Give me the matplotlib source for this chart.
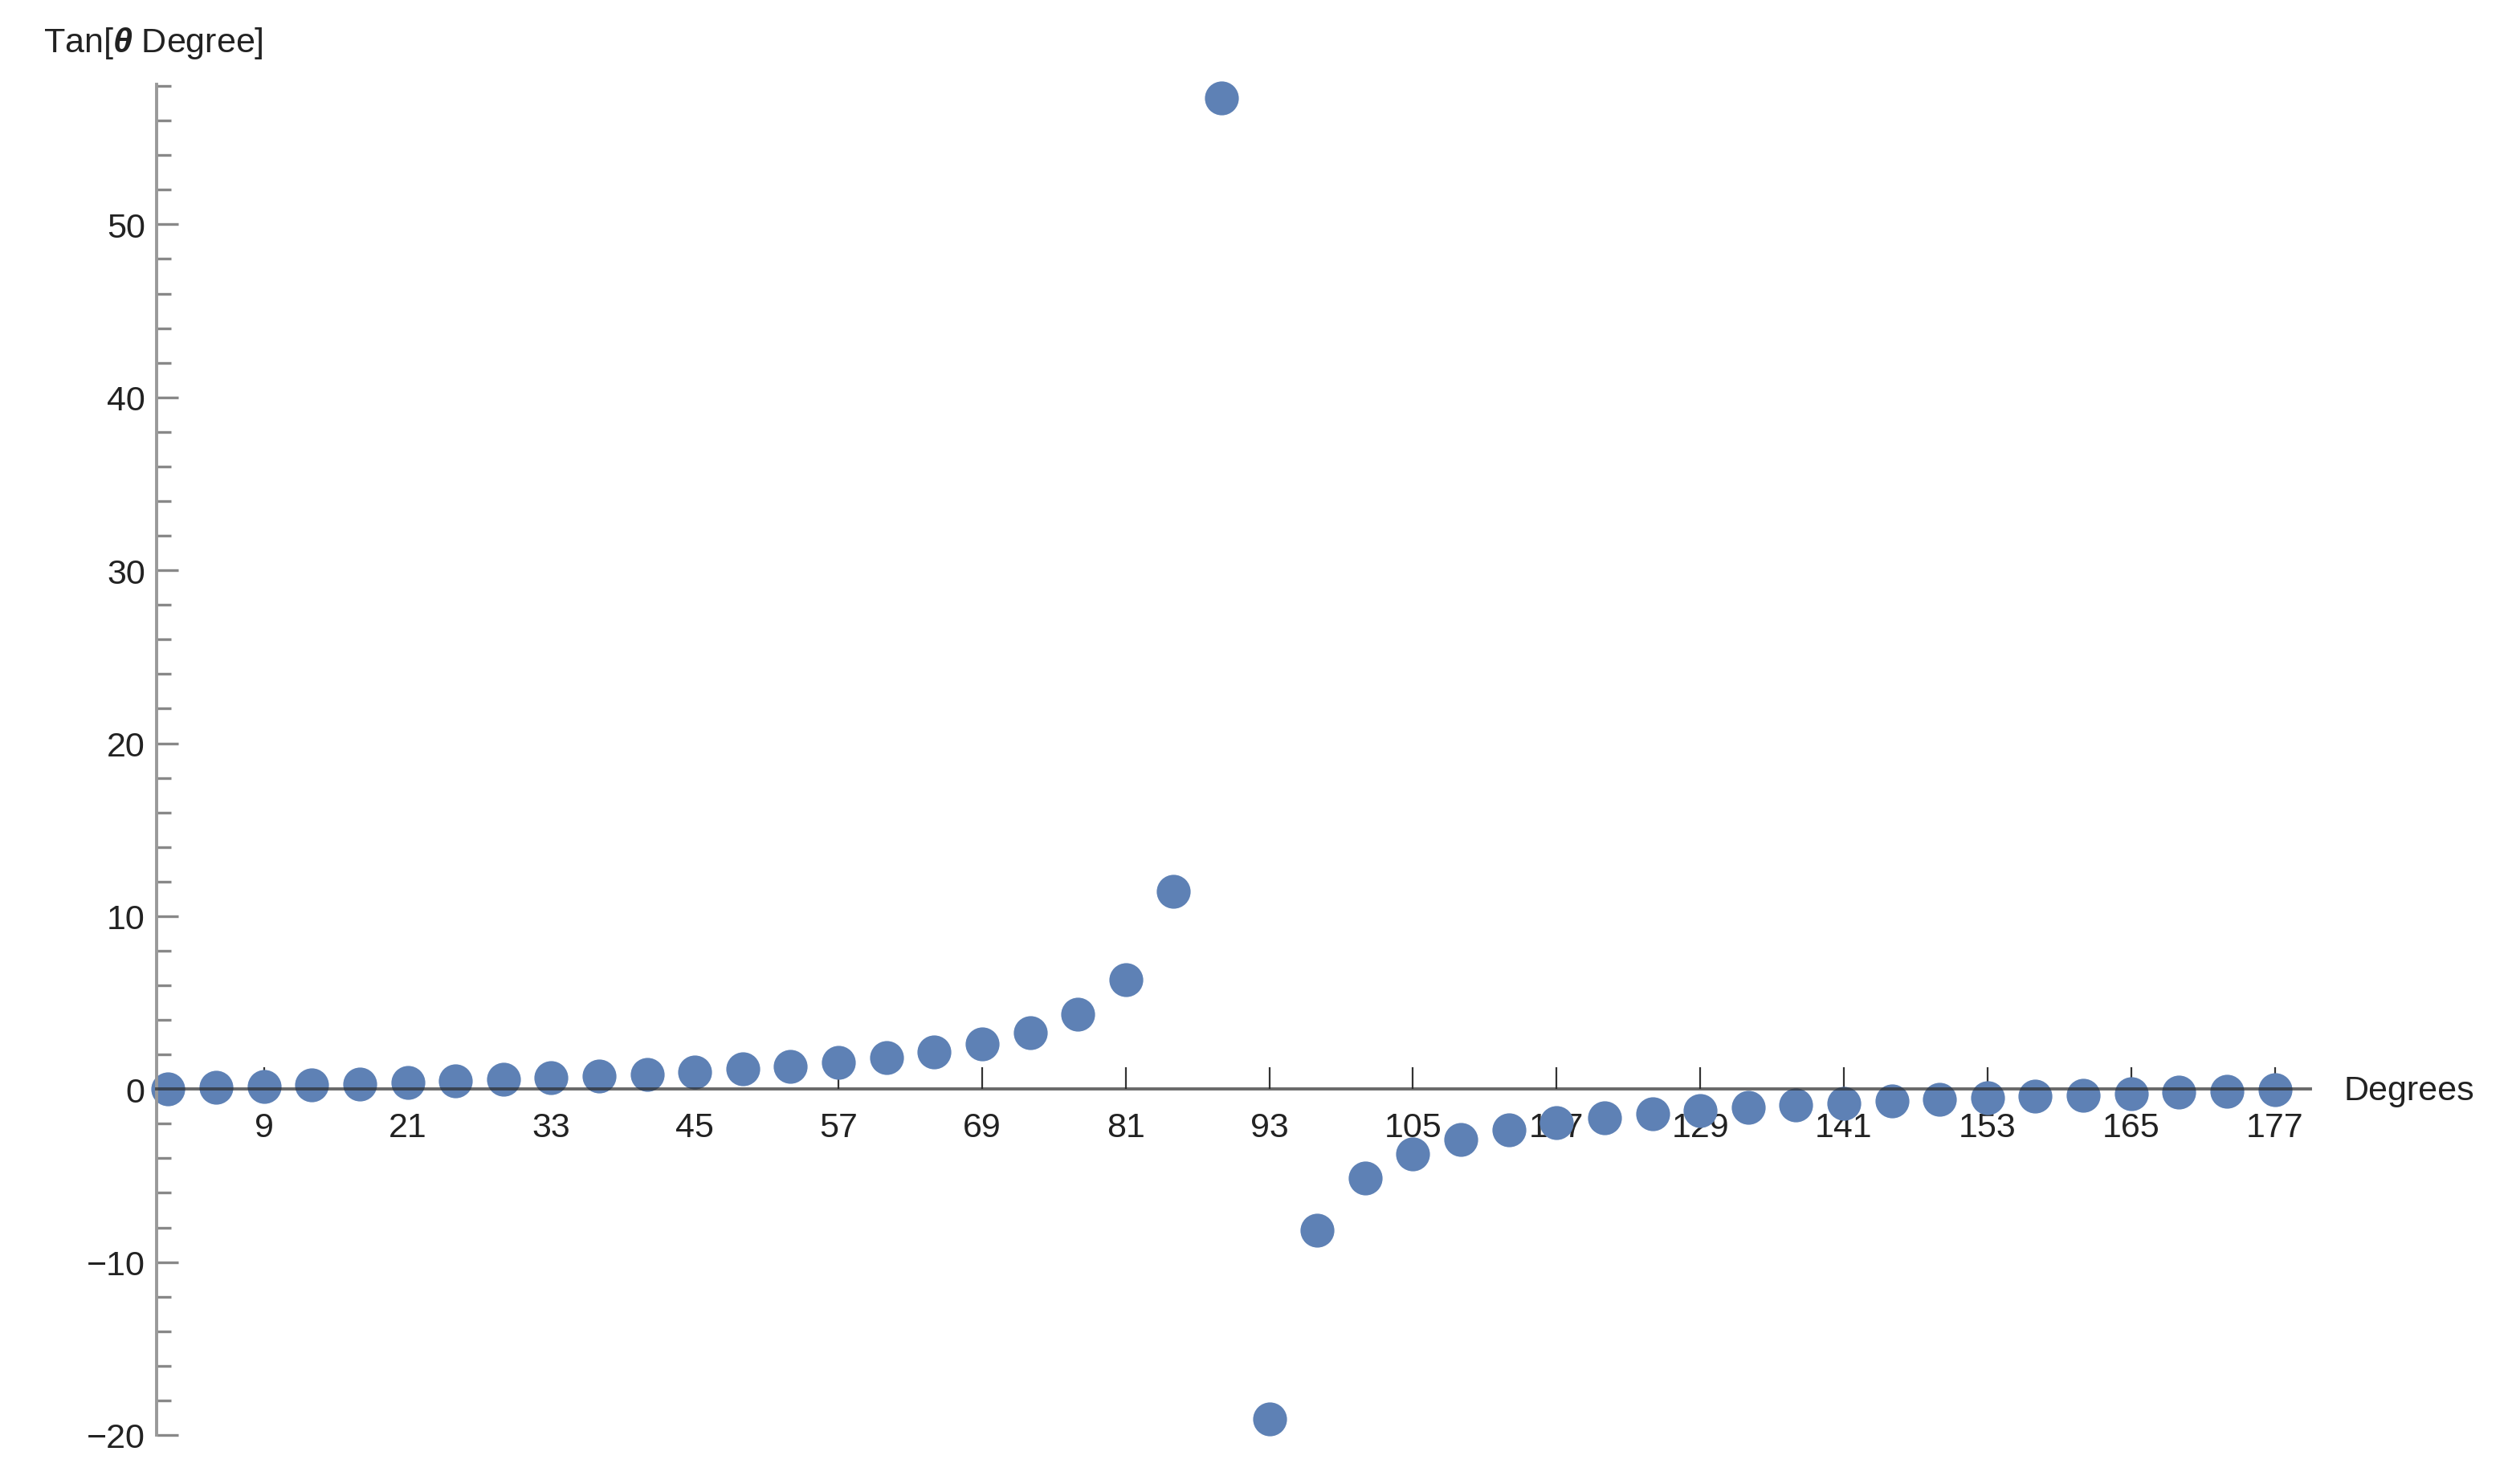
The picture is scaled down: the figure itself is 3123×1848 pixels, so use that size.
import matplotlib
matplotlib.use("Agg")
import matplotlib.pyplot as plt
from matplotlib.ticker import MultipleLocator

plt.rcParams['font.family'] = ['Liberation Sans', 'DejaVu Sans']
plt.rcParams['mathtext.fontset'] = 'custom'
plt.rcParams['mathtext.rm'] = 'Liberation Sans'
plt.rcParams['mathtext.bf'] = 'Liberation Sans:italic:bold'

# angles (degrees) and the plotted values
degrees = [1, 5, 9, 13, 17, 21, 25, 29, 33, 37, 41, 45, 49, 53, 57, 61, 65,
           69, 73, 77, 81, 85, 89, 93, 97, 101, 105, 109, 113, 117, 121, 125,
           129, 133, 137, 141, 145, 149, 153, 157, 161, 165, 169, 173, 177]
tan_values = [0.02, 0.09, 0.16, 0.23, 0.31, 0.38, 0.47, 0.55, 0.65, 0.75,
              0.87, 1.00, 1.15, 1.33, 1.54, 1.80, 2.14, 2.61, 3.27, 4.33,
              6.31, 11.43, 57.29, -19.08, -8.14, -5.14, -3.73, -2.90, -2.36,
              -1.96, -1.66, -1.43, -1.23, -1.07, -0.93, -0.81, -0.70, -0.60,
              -0.51, -0.42, -0.34, -0.27, -0.19, -0.12, -0.05]
x_ticks = [9, 21, 33, 45, 57, 69, 81, 93, 105, 117, 129, 141, 153, 165, 177]
y_ticks = [-20, -10, 0, 10, 20, 30, 40, 50]

DPI = 200
fig = plt.figure(figsize=(3123 / DPI, 1849 / DPI), dpi=DPI)
ax = fig.add_axes([0.0623, 0.033, 0.859, 0.9097])

ax.plot(degrees, tan_values, 'o', color='#5E81B5', markersize=15.2,
        markeredgewidth=0, clip_on=False, zorder=2)

ax.set_xlim(0, 180)
ax.set_ylim(-20, 58.1)

for s in ['top', 'right']:
    ax.spines[s].set_visible(False)
ax.spines['bottom'].set_position(('data', 0))
ax.spines['bottom'].set_color('#2a2a2a')
ax.spines['bottom'].set_alpha(0.7)
ax.spines['bottom'].set_linewidth(1.4)
ax.spines['bottom'].set_zorder(3)
ax.spines['left'].set_color('#999999')
ax.spines['left'].set_linewidth(1.4)

ax.set_xticks(x_ticks)
ax.set_yticks(y_ticks)
ax.set_yticklabels([f"\u2212{abs(v)}" if v < 0 else str(v) for v in y_ticks])
ax.yaxis.set_minor_locator(MultipleLocator(2))

ax.tick_params(axis='x', which='major', direction='in', length=9.7, width=0.8,
               color='#333333', pad=10, labelsize=15.5, labelcolor='#222222')
ax.tick_params(axis='y', which='major', direction='in', length=9.7, width=1.2,
               color='#888888', pad=5, labelsize=15.5, labelcolor='#222222')
ax.tick_params(axis='y', which='minor', direction='in', length=6.5, width=1.2,
               color='#888888')
for t in ax.xaxis.get_major_ticks():
    t.tick1line.set_zorder(4)

fig.text(54 / 3123, 1 - 54 / 1849, r"Tan[$\mathbf{\theta}$ Degree]",
         fontsize=15.5, ha='left', va='center', color='#222222')
fig.text(2918 / 3123, 1 - 1359 / 1849, "Degrees", fontsize=15.5,
         ha='left', va='center', color='#222222')

fig.savefig("out.png", dpi=DPI)
